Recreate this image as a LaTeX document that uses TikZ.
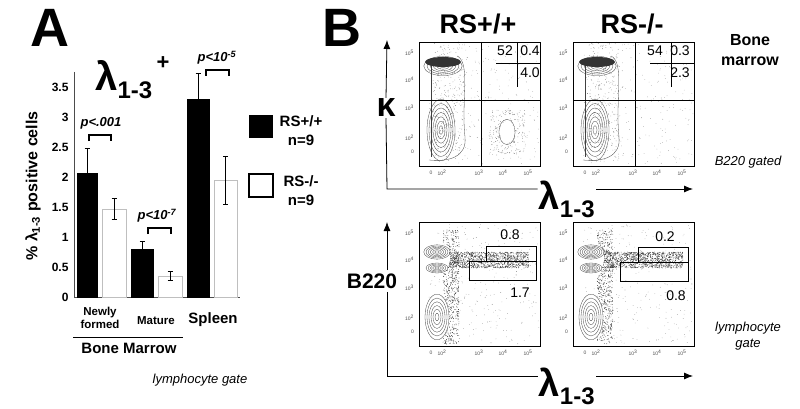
\documentclass[tikz,border=0pt]{standalone}
\usepackage{fontspec}
\setmainfont{Liberation Sans}
\usetikzlibrary{arrows.meta}
\begin{document}
\begin{tikzpicture}[x=1pt,y=-1pt,
  cont/.style={draw=black!75,line width=0.3pt},
  gate/.style={draw=black,line width=0.7pt},
  ax/.style={line width=0.8pt,-{Latex[length=9pt,width=7pt]}},
  num/.style={font=\fontsize{14}{14}\selectfont},
  tk/.style={font=\fontsize{5}{5}\selectfont,text=black!70}]
\useasboundingbox (0,0) rectangle (800,409);
% ---------- Panel A ----------
\node[font=\bfseries\fontsize{54}{54}\selectfont] (A) at (50,28) {A};
\node[font=\bfseries\fontsize{40}{40}\selectfont] (tit) at (124,80) {λ\textsubscript{\fontsize{24}{24}\selectfont 1-3}};
\node[font=\bfseries\fontsize{22}{22}\selectfont] (plus) at (163,63) {+};
\draw[line width=0.8pt,black!70] (74,72) -- (74,297);
\foreach \v/\l in {0/0,0.5/0.5,1/1,1.5/1.5,2/2,2.5/2.5,3/3,3.5/3.5}{
  \node[anchor=east,font=\bfseries\fontsize{12}{12}\selectfont] at (72,{297-60*\v}) {\l};}
\node[rotate=90,font=\bfseries\fontsize{16}{16}\selectfont] (yl) at (33,186) {\% λ\textsubscript{1-3} positive cells};
\draw[black!70,line width=0.8pt] (74,297) -- (240,297);
% bars
\foreach \a/\b/\h/\e/\c/\o in {77/97/2.07/0.4/black/black,102/126/1.47/0.18/white/black!25,131/153/0.8/0.12/black/black,158/182/0.35/0.08/white/black!25,187/209/3.3/0.42/black/black,214/237/1.95/0.4/white/black!25}{
  \fill[\c,draw=\o] (\a,297) rectangle (\b,{297-60*\h});
  \draw[line width=0.9pt] ({(\a+\b)/2},{297-60*(\h+\e)}) -- ({(\a+\b)/2},{297-60*(\h-\e)});
  \draw[line width=0.9pt] ({(\a+\b)/2-2.5},{297-60*(\h+\e)}) -- ({(\a+\b)/2+2.5},{297-60*(\h+\e)});
  \draw[line width=0.9pt] ({(\a+\b)/2-2.5},{297-60*(\h-\e)}) -- ({(\a+\b)/2+2.5},{297-60*(\h-\e)});}
\draw[line width=1.3pt] (89,141) -- (89,135) -- (111,135) -- (111,141);
\node[font=\bfseries\itshape\fontsize{13}{13}\selectfont] (p1) at (101,123) {p<.001};
\draw[line width=1.3pt] (148,234) -- (148,228) -- (171,228) -- (171,234);
\node[font=\bfseries\itshape\fontsize{13}{13}\selectfont] (p2) at (157,216) {p<10\textsuperscript{-7}};
\draw[line width=1.3pt] (206,76) -- (206,70) -- (229,70) -- (229,76);
\node[font=\bfseries\itshape\fontsize{13}{13}\selectfont] (p3) at (217,58) {p<10\textsuperscript{-5}};
\node[font=\bfseries\fontsize{11.5}{13}\selectfont,align=center] (nf) at (100,318) {Newly\\formed};
\node[font=\bfseries\fontsize{11.5}{11.5}\selectfont] (mat) at (156,321) {Mature};
\node[font=\bfseries\fontsize{15}{15}\selectfont] (spl) at (213,320) {Spleen};
\draw[line width=1pt] (73,337) -- (183,337);
\node[font=\bfseries\fontsize{15}{15}\selectfont] (bm) at (129,348) {Bone Marrow};
\fill[black] (249,115) rectangle (273,138);
\node[font=\bfseries\fontsize{15}{19}\selectfont,align=center] (l1) at (301,131) {RS+/+\\n=9};
\draw[line width=1.3pt] (249,174) rectangle (273,197);
\node[font=\bfseries\fontsize{15}{19}\selectfont,align=center] (l2) at (301,191) {RS-/-\\n=9};
\node[font=\itshape\fontsize{13}{13}\selectfont] (lg) at (200,380) {lymphocyte gate};
% ---------- Panel B ----------
\node[font=\bfseries\fontsize{54}{54}\selectfont] (B) at (342,28) {B};
\node[font=\bfseries\fontsize{27}{27}\selectfont] (h1) at (478,24) {RS+/+};
\node[font=\bfseries\fontsize{27}{27}\selectfont] (h2) at (632,24) {RS-/-};
\node[font=\bfseries\fontsize{16}{20}\selectfont,align=center] (bmm) at (750,50) {Bone\\marrow};
\node[font=\itshape\fontsize{13}{13}\selectfont] (bg) at (748,162) {B220 gated};
\node[font=\itshape\fontsize{13}{16}\selectfont,align=center] (lyg) at (748,336) {lymphocyte\\gate};
% axes
\coordinate (o1) at (387,189); \coordinate (t1) at (387,40); \coordinate (r1) at (693,189);
\node[font=\bfseries\fontsize{34}{34}\selectfont,fill=white,inner sep=1pt] (kap) at (386,108) {κ};
\node[font=\bfseries\fontsize{38}{38}\selectfont,fill=white,inner sep=1pt] (lam1) at (567,199) {λ\textsubscript{\fontsize{24}{24}\selectfont 1-3}};
\draw[line width=0.8pt] (kap.south) -- (o1) -- (lam1.west|-o1);
\draw[ax] (kap.north) -- (t1);
\draw[ax] (lam1.east|-o1) -- (r1);
\coordinate (o2) at (387,376); \coordinate (t2) at (387,222); \coordinate (r2) at (693,376);
\node[font=\bfseries\fontsize{38}{38}\selectfont,fill=white,inner sep=1pt] (lam2) at (567,386) {λ\textsubscript{\fontsize{24}{24}\selectfont 1-3}};
\node[font=\bfseries\fontsize{21}{21}\selectfont] (b220) at (372,281) {B220};
\draw[line width=0.8pt] (b220.south-|o2) -- (o2) -- (lam2.west|-o2);
\draw[ax] (b220.north-|o2) -- (t2);
\draw[ax] (lam2.east|-o2) -- (r2);
\pgfmathsetseed{7}
\foreach \X/\Y/\top/\pos in {419/42/1/1,573/42/1/0,419/222/0/1,573/222/0/0}{
 \begin{scope}[shift={(\X,\Y)}]
  \foreach \i in {1,...,260}{\fill[black!55] ({10+rnd*110},{2+rnd*120}) circle (0.3);}
  \ifnum\top=1
   \foreach \i in {1,...,250}{\fill[black!70] ({30+rand*16},{60+rand*60}) circle (0.3);}
   \foreach \r in {2,4,6,8,10,12}{\draw[cont] (24,{24}) ellipse ({\r*1.6} and {\r*0.8});}
   \fill[black!80] (24,20) ellipse (18 and 5);
   \foreach \r in {2,4,6,8,10,12,14}{\draw[cont] (22,{88}) ellipse ({\r*1.0} and {\r*2.2});}
   \draw[cont] (12,24) -- (12,115);
   \draw[cont] (38,14) .. controls (52,20) and (42,60) .. (46,95) .. controls (48,115) and (30,120) .. (10,118);
   \ifnum\pos=1
    \foreach \i in {1,...,200}{\fill[black!70] ({88+rand*18},{90+rand*22}) circle (0.3);}
    \foreach \r in {3,6,9}{\draw[cont] (88,{90}) ellipse ({\r*0.9} and {\r*1.4});}
    \fill[white] (88,90) ellipse (7 and 11);
   \fi
   \draw[gate] (62,0) -- (62,124); \draw[gate] (0,58) -- (121,58);
   \draw[gate] (98,0) -- (98,45); \draw[gate] (77,21) -- (121,21);
  \else
   \foreach \i in {1,...,1100}{\fill[black!90] ({25+rnd*85},{38+rand*8}) circle (0.35);}
   \foreach \i in {1,...,600}{\fill[black!90] ({32+rand*8},{8+rnd*114}) circle (0.35);}
   \fill[white] (18,36) ellipse (13 and 17);
   \fill[white] (18,95) ellipse (12 and 24);
   \foreach \r in {2,4,6,8,10,12}{\draw[cont] (18,{30}) ellipse ({\r*1.1} and {\r*0.6});}
   \foreach \r in {2,4,6,8,10}{\draw[cont] (18,{46}) ellipse ({\r*1.1} and {\r*0.5});}
   \foreach \r in {2,4,6,8,10,12}{\draw[cont] (18,{95}) ellipse ({\r*1.0} and {\r*1.9});}
   \ifnum\pos=1
    \draw[gate] (67,24) rectangle (117,39);
    \draw[gate] (50,39) rectangle (117,58);
   \else
    \draw[gate] (65,25) rectangle (115,40);
    \draw[gate] (47,40) rectangle (115,59);
   \fi
  \fi
  \draw[line width=0.8pt] (0,0) rectangle (121,124);
  \foreach \t/\tt in {12/0,23/10\textsuperscript{2},60/10\textsuperscript{3},84/10\textsuperscript{4},109/10\textsuperscript{5}}
    \node[tk] at (\t,131) {\tt};
  \foreach \t/\tt in {110/0,96/10\textsuperscript{2},66/10\textsuperscript{3},38/10\textsuperscript{4},11/10\textsuperscript{5}}
    \node[tk,anchor=east] at (-1.5,\t) {\tt};
 \end{scope}}
\foreach \n/\x/\y in {52/505/51,0.4/530/51,4.0/530/73,54/655/51,0.3/680/51,2.3/680/73}
  \node[num] at (\x,\y) {\n};
\node[num] at (510,235) {0.8};
\node[num] at (520,293) {1.7};
\node[num] at (665,237) {0.2};
\node[num] at (676,296) {0.8};
\end{tikzpicture}
\end{document}
